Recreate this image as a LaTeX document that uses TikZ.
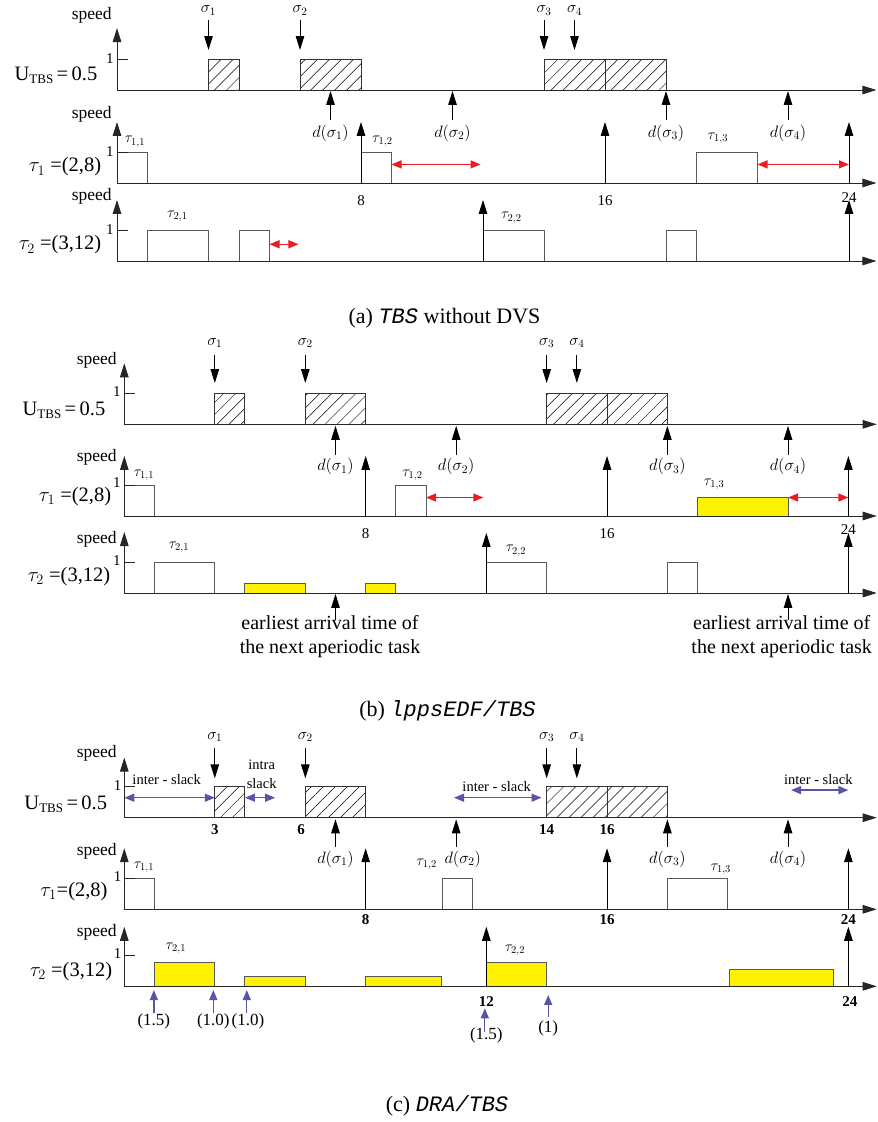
\RequirePackage{fix-cm}
\documentclass[tikz,border=0pt]{standalone}
\usepackage{fontspec}
\setmainfont{Liberation Serif}
\setmonofont{Liberation Mono}
\usetikzlibrary{arrows.meta,patterns.meta}
\definecolor{tyellow}{RGB}{255,242,0}
\definecolor{ared}{RGB}{237,28,36}
\definecolor{sblue}{RGB}{88,84,166}
\newcommand\mySpeed{\fontsize{17.5}{20}\selectfont}
\newcommand\myRow{\fontsize{20.5}{24}\selectfont}
\newcommand\mySig{\fontsize{16}{18}\selectfont}
\newcommand\myDl{\fontsize{16.5}{18}\selectfont}
\newcommand\myTau{\fontsize{15}{17}\selectfont}
\newcommand\myTick{\fontsize{15}{17}\selectfont}
\newcommand\myEarly{\fontsize{20}{24}\selectfont}
\newcommand\myCap{\fontsize{22}{26}\selectfont}
\newcommand\mySlack{\fontsize{14.5}{17}\selectfont}
\newcommand\myPar{\fontsize{17}{20}\selectfont}
\newcommand\myOne{\fontsize{15}{17}\selectfont}
\newcommand\myU{U\raisebox{-0.35ex}{\fontsize{13}{14}\selectfont TBS}\,=\,0.5}
\tikzset{
  every node/.style={inner sep=0pt, outer sep=0pt},
  axisln/.style={draw=black!85, line width=1pt, -{Triangle[length=14pt,width=8.5pt]}},
  uparr/.style={draw=black, line width=1pt, -{Triangle[length=14pt,width=8.5pt]}},
  dnarr/.style={draw=black, line width=1pt, -{Triangle[length=14pt,width=8.5pt]}},
  tickln/.style={draw=black!85, line width=1pt},
  wbox/.style={draw=black!65, line width=1pt, fill=white},
  ybox/.style={draw=black!65, line width=1pt, fill=tyellow},
  hbox/.style={draw=black!80, line width=1pt, pattern={Lines[angle=45,distance=8.5pt,line width=0.5pt]}},
  redarr/.style={draw=ared, line width=1.3pt, {Triangle[length=10pt,width=8pt]}-{Triangle[length=10pt,width=8pt]}},
  slackarr/.style={draw=sblue, line width=1.3pt, {Triangle[length=10pt,width=8pt]}-{Triangle[length=10pt,width=8pt]}},
  bluearr/.style={draw=sblue, line width=1.3pt, -{Triangle[length=10pt,width=8pt]}},
  tlab/.style={font=\myTick},
  blab/.style={font=\myTick\bfseries},
}
\begin{document}
\begin{tikzpicture}[x=1pt,y=-1pt]
\useasboundingbox (0,0) rectangle (878,1122);

%================ (a) ================
\node[font=\mySpeed] (aSp1) at (91.7,15) {speed};
\node[font=\mySpeed] (aSp2) at (91.7,114) {speed};
\node[font=\mySpeed] (aSp3) at (91.7,196) {speed};
\node[font=\myRow] (aLU) at (56,75) {\myU};
\node[font=\myRow] (aL1) at (65,167) {$\tau_1$ =(2,8)};
\node[font=\myRow] (aL2) at (60,245) {$\tau_2$ =(3,12)};
\node[font=\myCap] (capA) at (444.5,318) {(a) {\ttfamily\itshape TBS} without DVS};

\begin{scope}[shift={(117,90)}, x=30.5pt, y=31pt]
  \draw[hbox] (3,0) rectangle (4,1);
  \draw[hbox] (6,0) rectangle (8,1);
  \draw[hbox] (14,0) rectangle (16,1);
  \draw[hbox] (16,0) rectangle (18,1);
  \draw[axisln] (0,0) -- (24.9,0);
  \draw[axisln] (0,0) -- (0,2.0);
  \draw[tickln] (0,1) -- (0.37,1);
  \node[font=\myOne] (aU1) at (-0.23,1.02) {1};
  \foreach \t/\i in {3/1,6/2,14/3,15/4} {
    \node[font=\mySig] (aS\i) at (\t,2.56) {$\sigma_\i$};
    \draw[dnarr] (\t,2.26) -- (\t,1.29);
  }
  \foreach \t/\i in {7/1,11/2,18/3,22/4} {
    \node[font=\myDl] (aD\i) at (\t,-1.39) {$d(\sigma_\i)$};
    \draw[uparr] (\t,-0.97) -- (\t,-0.03);
  }
\end{scope}

\begin{scope}[shift={(117,183)}, x=30.5pt, y=31pt]
  \draw[wbox] (0,0) rectangle (1,1);
  \draw[wbox] (8,0) rectangle (9,1);
  \draw[wbox] (19,0) rectangle (21,1);
  \draw[axisln] (0,0) -- (24.9,0);
  \draw[axisln] (0,0) -- (0,1.97);
  \draw[tickln] (0,1) -- (0.37,1);
  \node[font=\myOne] (a11) at (-0.23,1.02) {1};
  \foreach \t in {8,16,24} \draw[uparr] (\t,0) -- (\t,1.97);
  \node[font=\myTau] (aT11) at (0.59,1.33) {$\tau_{1,1}$};
  \node[font=\myTau] (aT12) at (8.7,1.35) {$\tau_{1,2}$};
  \node[font=\myTau] (aT13) at (19.7,1.45) {$\tau_{1,3}$};
  \draw[redarr] (9,0.6) -- (11.92,0.6);
  \draw[redarr] (21,0.6) -- (24,0.6);
  \node[tlab] (aX8) at (8,-0.58) {8};
  \node[tlab] (aX16) at (16,-0.58) {16};
  \node[tlab] (aX24) at (24,-0.48) {24};
\end{scope}

\begin{scope}[shift={(117,261)}, x=30.5pt, y=31pt]
  \draw[wbox] (1,0) rectangle (3,1);
  \draw[wbox] (4,0) rectangle (5,1);
  \draw[wbox] (12,0) rectangle (14,1);
  \draw[wbox] (18,0) rectangle (19,1);
  \draw[axisln] (0,0) -- (24.9,0);
  \draw[axisln] (0,0) -- (0,1.97);
  \draw[tickln] (0,1) -- (0.37,1);
  \node[font=\myOne] (a21) at (-0.23,1.02) {1};
  \foreach \t in {12,24} \draw[uparr] (\t,0) -- (\t,1.97);
  \node[font=\myTau] (aT21) at (1.98,1.45) {$\tau_{2,1}$};
  \node[font=\myTau] (aT22) at (12.93,1.39) {$\tau_{2,2}$};
  \draw[redarr] (5,0.54) -- (5.95,0.54);
\end{scope}

%================ (b) ================
\node[font=\mySpeed] (bSp1) at (96.7,360) {speed};
\node[font=\mySpeed] (bSp2) at (96.7,457.7) {speed};
\node[font=\mySpeed] (bSp3) at (96.7,539.3) {speed};
\node[font=\myRow] (bLU) at (64,410) {\myU};
\node[font=\myRow] (bL1) at (75,496.7) {$\tau_1$ =(2,8)};
\node[font=\myRow] (bL2) at (69,576.7) {$\tau_2$ =(3,12)};
\node[font=\myCap] (capB) at (447.5,711) {(b) {\ttfamily\itshape lppsEDF/TBS}};
\node[font=\myEarly, align=center] (bE1) at (330,637) {earliest arrival time of\\the next aperiodic task};
\node[font=\myEarly, align=center] (bE2) at (781.7,637) {earliest arrival time of\\the next aperiodic task};

\begin{scope}[shift={(124.3,424.3)}, x=30.17pt, y=30.8pt]
  \draw[hbox] (3,0) rectangle (4,1);
  \draw[hbox] (6,0) rectangle (8,1);
  \draw[hbox] (14,0) rectangle (16,1);
  \draw[hbox] (16,0) rectangle (18,1);
  \draw[axisln] (0,0) -- (24.94,0);
  \draw[axisln] (0,0) -- (0,1.98);
  \draw[tickln] (0,1) -- (0.37,1);
  \node[font=\myOne] (bU1) at (-0.25,1.05) {1};
  \foreach \t/\i in {3/1,6/2,14/3,15/4} {
    \node[font=\mySig] (bS\i) at (\t,2.64) {$\sigma_\i$};
    \draw[dnarr] (\t,2.25) -- (\t,1.34);
  }
  \foreach \t/\i in {7/1,11/2,18/3,22/4} {
    \node[font=\myDl] (bD\i) at (\t,-1.38) {$d(\sigma_\i)$};
    \draw[uparr] (\t,-0.99) -- (\t,-0.05);
  }
\end{scope}

\begin{scope}[shift={(124.3,516)}, x=30.17pt, y=30.8pt]
  \draw[wbox] (0,0) rectangle (1,1);
  \draw[wbox] (9,0) rectangle (10,1);
  \draw[ybox] (19,0) rectangle (22,0.6);
  \draw[axisln] (0,0) -- (24.94,0);
  \draw[axisln] (0,0) -- (0,1.95);
  \draw[tickln] (0,1) -- (0.37,1);
  \node[font=\myOne] (b11) at (-0.25,1.08) {1};
  \foreach \t in {8,16,24} \draw[uparr] (\t,0) -- (\t,1.95);
  \node[font=\myTau] (bT11) at (0.65,1.33) {$\tau_{1,1}$};
  \node[font=\myTau] (bT12) at (9.55,1.33) {$\tau_{1,2}$};
  \node[font=\myTau] (bT13) at (19.55,1.04) {$\tau_{1,3}$};
  \draw[redarr] (10,0.6) -- (11.9,0.6);
  \draw[redarr] (22,0.6) -- (24,0.6);
  \node[tlab] (bX8) at (8,-0.58) {8};
  \node[tlab] (bX16) at (16,-0.58) {16};
  \node[tlab] (bX24) at (24,-0.45) {24};
\end{scope}

\begin{scope}[shift={(124.3,593)}, x=30.17pt, y=30.8pt]
  \draw[wbox] (1,0) rectangle (3,1);
  \draw[ybox] (4,0) rectangle (6,0.32);
  \draw[ybox] (8,0) rectangle (9,0.32);
  \draw[wbox] (12,0) rectangle (14,1);
  \draw[wbox] (18,0) rectangle (19,1);
  \draw[axisln] (0,0) -- (24.94,0);
  \draw[axisln] (0,0) -- (0,1.98);
  \draw[tickln] (0,1) -- (0.37,1);
  \node[font=\myOne] (b21) at (-0.25,1.06) {1};
  \foreach \t in {12,24} \draw[uparr] (\t,0) -- (\t,1.95);
  \node[font=\myTau] (bT21) at (1.81,1.48) {$\tau_{2,1}$};
  \node[font=\myTau] (bT22) at (12.98,1.37) {$\tau_{2,2}$};
  \draw[uparr] (7,-0.88) -- (7,-0.03);
  \draw[uparr] (22,-0.88) -- (22,-0.03);
\end{scope}

%================ (c) ================
\node[font=\mySpeed] (cSp1) at (96.7,753.3) {speed};
\node[font=\mySpeed] (cSp2) at (96.7,851.7) {speed};
\node[font=\mySpeed] (cSp3) at (96.7,932.7) {speed};
\node[font=\myRow] (cLU) at (65.8,804) {\myU};
\node[font=\myRow] (cL1) at (74,891.7) {$\tau_1$=(2,8)};
\node[font=\myRow] (cL2) at (71,971.7) {$\tau_2$ =(3,12)};
\node[font=\myCap] (capC) at (447,1105.7) {(c) {\ttfamily\itshape DRA/TBS}};
\node[font=\mySlack] (cIS1) at (166.7,779.3) {inter - slack};
\node[font=\mySlack] (cIn1) at (261.7,765) {intra};
\node[font=\mySlack] (cIn2) at (261.7,783.3) {slack};
\node[font=\mySlack] (cIS2) at (496.7,786.7) {inter - slack};
\node[font=\mySlack] (cIS3) at (818.3,779.3) {inter - slack};

\begin{scope}[shift={(124.3,817.7)}, x=30.17pt, y=31pt]
  \draw[hbox] (3,0) rectangle (4,1);
  \draw[hbox] (6,0) rectangle (8,1);
  \draw[hbox] (14,0) rectangle (16,1);
  \draw[hbox] (16,0) rectangle (18,1);
  \draw[axisln] (0,0) -- (24.94,0);
  \draw[axisln] (0,0) -- (0,1.94);
  \draw[tickln] (0,1) -- (0.37,1);
  \node[font=\myOne] (cU1) at (-0.22,1.05) {1};
  \foreach \t/\i in {3/1,6/2,14/3,15/4} {
    \node[font=\mySig] (cS\i) at (\t,2.61) {$\sigma_\i$};
    \draw[dnarr] (\t,2.24) -- (\t,1.27);
  }
  \foreach \t/\i in {7/1,18/3,22/4} {
    \node[font=\myDl] (cD\i) at (\t,-1.34) {$d(\sigma_\i)$};
  }
  \node[font=\myDl] (cD2) at (11.22,-1.34) {$d(\sigma_2)$};
  \foreach \t in {7,11,18,22} {
    \draw[uparr] (\t,-0.94) -- (\t,-0.05);
  }
  \draw[slackarr] (0,0.645) -- (3,0.645);
  \draw[slackarr] (4,0.645) -- (5,0.645);
  \draw[slackarr] (10.93,0.645) -- (13.83,0.645);
  \draw[slackarr] (22.1,0.89) -- (24,0.89);
  \node[blab] (cX3) at (3,-0.37) {3};
  \node[blab] (cX6) at (5.86,-0.37) {6};
  \node[blab] (cX14) at (14,-0.37) {14};
  \node[blab] (cX16) at (16,-0.37) {16};
\end{scope}

\begin{scope}[shift={(124.3,909.3)}, x=30.17pt, y=31pt]
  \draw[wbox] (0,0) rectangle (1,1);
  \draw[wbox] (10.55,0) rectangle (11.55,1);
  \draw[wbox] (18,0) rectangle (20,1);
  \draw[axisln] (0,0) -- (24.94,0);
  \draw[axisln] (0,0) -- (0,1.97);
  \draw[tickln] (0,1) -- (0.37,1);
  \node[font=\myOne] (c11) at (-0.22,1.05) {1};
  \foreach \t in {8,16,24} \draw[uparr] (\t,0) -- (\t,1.97);
  \node[font=\myTau] (cT11) at (0.65,1.35) {$\tau_{1,1}$};
  \node[font=\myTau] (cT12) at (10.02,1.45) {$\tau_{1,2}$};
  \node[font=\myTau] (cT13) at (19.77,1.29) {$\tau_{1,3}$};
  \node[blab] (cX8) at (8,-0.32) {8};
  \node[blab] (cX16b) at (16,-0.32) {16};
  \node[blab] (cX24) at (24,-0.32) {24};
\end{scope}

\begin{scope}[shift={(124.3,986.3)}, x=30.17pt, y=31pt]
  \draw[ybox] (1,0) rectangle (3,0.77);
  \draw[ybox] (4,0) rectangle (6,0.31);
  \draw[ybox] (8,0) rectangle (10.5,0.31);
  \draw[ybox] (12,0) rectangle (14,0.77);
  \draw[ybox] (20.05,0) rectangle (23.5,0.55);
  \draw[axisln] (0,0) -- (24.94,0);
  \draw[axisln] (0,0) -- (0,1.92);
  \draw[tickln] (0,1) -- (0.37,1);
  \node[font=\myOne] (c21) at (-0.22,1.05) {1};
  \foreach \t in {12,24} \draw[uparr] (\t,0) -- (\t,1.92);
  \node[font=\myTau] (cT21) at (1.71,1.23) {$\tau_{2,1}$};
  \node[font=\myTau] (cT22) at (12.95,1.17) {$\tau_{2,2}$};
  \node[blab] (cX12) at (12,-0.5) {12};
  \node[blab] (cX24b) at (24.05,-0.5) {24};
  \node[font=\myPar] (cP1) at (0.98,-1.14) {(1.5)};
  \node[font=\myPar] (cP2) at (2.95,-1.14) {(1.0)};
  \node[font=\myPar] (cP3) at (4.1,-1.14) {(1.0)};
  \node[font=\myPar] (cP4) at (12,-1.59) {(1.5)};
  \node[font=\myPar] (cP5) at (14.05,-1.35) {(1)};
  \draw[bluearr] (0.98,-0.87) -- (0.98,-0.12);
  \draw[bluearr] (2.95,-0.87) -- (2.95,-0.12);
  \draw[bluearr] (4.06,-0.87) -- (4.06,-0.12);
  \draw[bluearr] (11.95,-1.46) -- (11.95,-0.71);
  \draw[bluearr] (14.05,-0.98) -- (14.05,-0.28);
\end{scope}
\end{tikzpicture}
\end{document}
